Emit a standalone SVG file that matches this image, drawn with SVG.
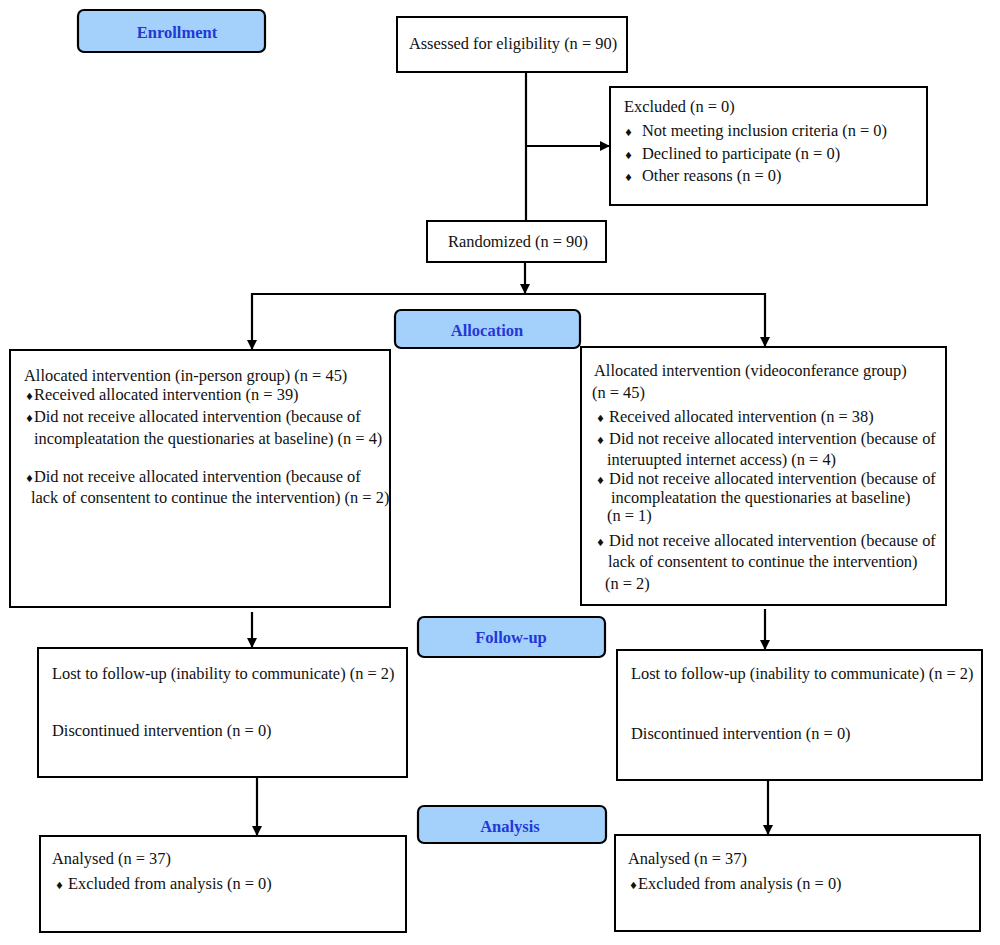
<svg xmlns="http://www.w3.org/2000/svg" width="1000" height="945" viewBox="0 0 1000 945">
<defs>
<marker id="ah" viewBox="0 0 10 10" refX="10" refY="5" markerWidth="4.6" markerHeight="4.6" orient="auto" markerUnits="strokeWidth">
<path d="M0,0 L10,5 L0,10 z" fill="#000"/>
</marker>
<style>
.box{fill:#fff;stroke:#000;stroke-width:2}
.stage{fill:#a3d1fb;stroke:#000;stroke-width:2.2}
.st{font-family:"Liberation Serif",serif;font-weight:bold;font-size:16.5px;fill:#2438d8;text-anchor:middle}
.t{font-family:"Liberation Serif",serif;font-size:16.4px;fill:#111}
.b{font-family:"DejaVu Sans",sans-serif;font-size:10px}
.c{fill:none;stroke:#000;stroke-width:2.2}
.ca{fill:none;stroke:#000;stroke-width:2.2;marker-end:url(#ah)}
</style>
</defs>
<rect width="1000" height="945" fill="#fff"/>

<g id="connectors">
<line class="c" x1="526" y1="72" x2="526" y2="221"/>
<line class="ca" x1="526" y1="146" x2="610" y2="146"/>
<line class="ca" x1="525" y1="262" x2="525" y2="294"/>
<polyline class="c" points="252,294 765,294"/>
<line class="ca" x1="252" y1="293" x2="252" y2="350"/>
<line class="ca" x1="765" y1="293" x2="765" y2="347"/>
<line class="ca" x1="252" y1="612" x2="252" y2="648"/>
<line class="ca" x1="765" y1="609" x2="765" y2="650"/>
<line class="ca" x1="257" y1="778" x2="257" y2="836"/>
<line class="ca" x1="768" y1="780" x2="768" y2="835"/>
</g>

<g id="stage-enrollment">
<rect class="stage" x="78" y="10" width="187" height="42" rx="6"/>
<text class="st" x="177" y="38">Enrollment</text>
</g>
<g id="stage-allocation">
<rect class="stage" x="395" y="310" width="185" height="38" rx="6"/>
<text class="st" x="487" y="336">Allocation</text>
</g>
<g id="stage-followup">
<rect class="stage" x="418" y="617" width="187" height="40" rx="6"/>
<text class="st" x="511" y="643">Follow-up</text>
</g>
<g id="stage-analysis">
<rect class="stage" x="418" y="806" width="188" height="37" rx="6"/>
<text class="st" x="510" y="832">Analysis</text>
</g>

<g id="assessed">
<rect class="box" x="397" y="17" width="230" height="55"/>
<text class="t" x="513" y="49" text-anchor="middle">Assessed for eligibility (n = 90)</text>
</g>

<g id="excluded">
<rect class="box" x="610" y="87" width="317" height="118"/>
<text class="t" x="624" y="112">Excluded (n = 0)</text>
<text class="t" x="624" y="136"><tspan class="b">♦</tspan><tspan x="642">Not meeting inclusion criteria (n = 0)</tspan></text>
<text class="t" x="624" y="159"><tspan class="b">♦</tspan><tspan x="642">Declined to participate (n = 0)</tspan></text>
<text class="t" x="624" y="181"><tspan class="b">♦</tspan><tspan x="642">Other reasons (n = 0)</tspan></text>
</g>

<g id="randomized">
<rect class="box" x="427" y="221" width="179" height="41"/>
<text class="t" x="518" y="247" text-anchor="middle">Randomized (n = 90)</text>
</g>

<g id="alloc-left">
<rect class="box" x="10" y="350" width="380" height="257"/>
<text class="t" x="24" y="381">Allocated intervention (in-person group) (n = 45)</text>
<text class="t" x="25" y="400"><tspan class="b">♦</tspan>Received allocated intervention (n = 39)</text>
<text class="t" x="25" y="422"><tspan class="b">♦</tspan>Did not receive allocated intervention (because of</text>
<text class="t" x="34" y="444">incompleatation the questionaries at baseline) (n = 4)</text>
<text class="t" x="25" y="482"><tspan class="b">♦</tspan>Did not receive allocated intervention (because of</text>
<text class="t" x="31" y="503">lack of consentent to continue the intervention) (n = 2)</text>
</g>

<g id="alloc-right">
<rect class="box" x="581" y="347" width="365" height="258"/>
<text class="t" x="594" y="376">Allocated intervention (videoconferance group)</text>
<text class="t" x="592" y="398">(n = 45)</text>
<text class="t" x="596" y="422"><tspan class="b">♦</tspan> Received allocated intervention (n = 38)</text>
<text class="t" x="596" y="444"><tspan class="b">♦</tspan> Did not receive allocated intervention (because of</text>
<text class="t" x="607" y="465">interuupted internet access) (n = 4)</text>
<text class="t" x="596" y="484"><tspan class="b">♦</tspan> Did not receive allocated intervention (because of</text>
<text class="t" x="611" y="503">incompleatation the questionaries at baseline)</text>
<text class="t" x="607" y="521">(n = 1)</text>
<text class="t" x="596" y="546"><tspan class="b">♦</tspan> Did not receive allocated intervention (because of</text>
<text class="t" x="608" y="567">lack of consentent to continue the intervention)</text>
<text class="t" x="605" y="589">(n = 2)</text>
</g>

<g id="followup-left">
<rect class="box" x="38" y="648" width="369" height="129"/>
<text class="t" x="52" y="679">Lost to follow-up (inability to communicate) (n = 2)</text>
<text class="t" x="52" y="736">Discontinued intervention (n = 0)</text>
</g>

<g id="followup-right">
<rect class="box" x="617" y="650" width="365" height="130"/>
<text class="t" x="631" y="679">Lost to follow-up (inability to communicate) (n = 2)</text>
<text class="t" x="631" y="739">Discontinued intervention (n = 0)</text>
</g>

<g id="analysis-left">
<rect class="box" x="40" y="836" width="366" height="96"/>
<text class="t" x="52" y="864">Analysed (n = 37)</text>
<text class="t" x="55" y="889"><tspan class="b">♦</tspan> Excluded from analysis (n = 0)</text>
</g>

<g id="analysis-right">
<rect class="box" x="615" y="835" width="365" height="96"/>
<text class="t" x="628" y="864">Analysed (n = 37)</text>
<text class="t" x="629" y="889"><tspan class="b">♦</tspan>Excluded from analysis (n = 0)</text>
</g>
</svg>
